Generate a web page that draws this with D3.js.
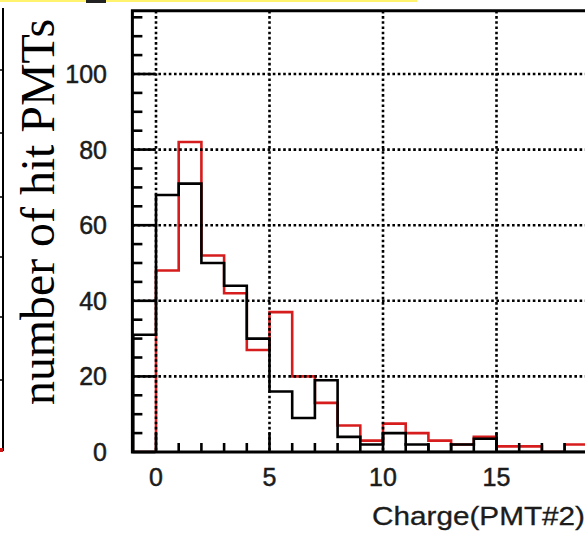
<!DOCTYPE html>
<html>
<head>
<meta charset="utf-8">
<script src="https://cdn.jsdelivr.net/npm/d3@7"></script>
<style>
  html, body { margin: 0; padding: 0; background: #fff; }
  svg { display: block; }
</style>
</head>
<body>
<svg id="chart" width="585" height="534"></svg>
<script>
// histogram bins: width 1, first bin starts at -1
const binStart = -1;
const redCounts = [0, 48, 82, 52, 42, 27, 37, 20, 13, 7, 3, 7.5, 5, 3, 2, 4, 1.5, 1.5, 0, 2, 0];
const blackCounts = [31, 68, 71, 50, 44, 30, 16, 9, 19, 4, 2, 5, 2, 0, 2, 3.5, 0, 0, 0, 0, 0];

const xMajorTicks = [0, 5, 10, 15];
const yMajorTicks = [0, 20, 40, 60, 80, 100];
const xTitle = "Charge(PMT#2)";
const yTitle = "number of hit PMTs";

const svg = d3.select("#chart");

// escalas
const x = d3.scaleLinear().domain([0, 15]).range([156, 496.5]);
const y = d3.scaleLinear().domain([0, 100]).range([452, 74]);

const xMin = -1.04, xMax = 22;
const yMax = 116.7;

// resto do slide: faixa amarela e o gráfico vizinho cortado
svg.append("rect").attr("x", 0).attr("y", 0).attr("width", 417).attr("height", 2)
  .attr("fill", "#fff36e");
svg.append("rect").attr("x", 86).attr("y", 0).attr("width", 20).attr("height", 3)
  .attr("fill", "#222");
svg.append("line").attr("x1", 3).attr("x2", 3).attr("y1", 8).attr("y2", 451)
  .attr("stroke", "#000").attr("stroke-width", 2);
[70, 133, 197, 257, 317, 380].forEach(ty => {
  svg.append("line").attr("x1", 0).attr("x2", 3).attr("y1", ty).attr("y2", ty)
    .attr("stroke", "#000").attr("stroke-width", 1.5);
});
svg.append("rect").attr("x", 0).attr("y", 448).attr("width", 3).attr("height", 4)
  .attr("fill", "#d01818");

svg.append("defs").append("clipPath").attr("id", "plot")
  .append("rect")
  .attr("x", x(xMin)).attr("y", y(yMax))
  .attr("width", x(xMax) - x(xMin)).attr("height", y(0) - y(yMax));

const plot = svg.append("g").attr("clip-path", "url(#plot)");

function stepPoints(counts) {
  const pts = [[binStart, 0]];
  counts.forEach((v, i) => pts.push([binStart + i, v]));
  const end = binStart + counts.length;
  pts.push([end, counts[counts.length - 1]]);
  pts.push([end, 0]);
  return pts;
}

const step = d3.line()
  .x(d => x(d[0]))
  .y(d => y(d[1]))
  .curve(d3.curveStepAfter);

plot.append("path")
  .attr("d", step(stepPoints(redCounts)))
  .attr("fill", "none")
  .attr("stroke", "#d61c1c")
  .attr("stroke-width", 2.6);

plot.append("path")
  .attr("d", step(stepPoints(blackCounts)))
  .attr("fill", "none")
  .attr("stroke", "#000")
  .attr("stroke-width", 2.6);

// grade pontilhada
const grid = plot.append("g")
  .attr("stroke", "#000")
  .attr("stroke-width", 2.6)
  .attr("stroke-dasharray", "2.6,2.6");

grid.selectAll(".gx")
  .data(xMajorTicks)
  .join("line")
  .attr("x1", d => x(d)).attr("x2", d => x(d))
  .attr("y1", y(yMax)).attr("y2", y(0));

grid.selectAll(".gy")
  .data(yMajorTicks.filter(d => d > 0))
  .join("line")
  .attr("x1", x(xMin)).attr("x2", x(xMax))
  .attr("y1", d => y(d)).attr("y2", d => y(d));

// moldura
const frame = svg.append("g").attr("stroke", "#000").attr("stroke-width", 3).attr("fill", "none");
frame.append("path")
  .attr("d", `M${x(xMax)},${y(yMax)} L${x(xMin)},${y(yMax)} L${x(xMin)},${y(0)} L${x(xMax)},${y(0)}`);

// ticks do eixo y
const yMinor = d3.range(0, yMax, 5);
svg.append("g").selectAll("line")
  .data(yMinor)
  .join("line")
  .attr("x1", x(xMin))
  .attr("x2", d => x(xMin) + (d % 20 === 0 ? 23 : 10))
  .attr("y1", d => y(d)).attr("y2", d => y(d))
  .attr("stroke", "#000").attr("stroke-width", 2.6);

// ticks do eixo x
const xMinor = d3.range(0, xMax, 1);
svg.append("g").selectAll("line")
  .data(xMinor)
  .join("line")
  .attr("x1", d => x(d)).attr("x2", d => x(d))
  .attr("y1", y(0))
  .attr("y2", d => y(0) - (d % 5 === 0 ? 19 : 9))
  .attr("stroke", "#000").attr("stroke-width", 2.6);

// rótulos
const labelFont = "'Liberation Sans', Arial, Helvetica, sans-serif";

function labelStyle(sel) {
  sel.style("font-family", labelFont)
    .style("font-size", "25px")
    .attr("fill", "#1c1c1c")
    .attr("stroke", "#1c1c1c")
    .attr("stroke-width", 0.5);
}

svg.append("g").selectAll("text")
  .data(yMajorTicks)
  .join("text")
  .attr("x", 107)
  .attr("y", d => y(d))
  .attr("dy", "0.36em")
  .attr("text-anchor", "end")
  .call(labelStyle)
  .text(d => d);

svg.append("g").selectAll("text")
  .data(xMajorTicks)
  .join("text")
  .attr("x", d => x(d))
  .attr("y", 477)
  .attr("dy", "0.36em")
  .attr("text-anchor", "middle")
  .call(labelStyle)
  .text(d => d);

svg.append("text")
  .attr("x", 372)
  .attr("y", 525)
  .attr("textLength", 213)
  .attr("lengthAdjust", "spacingAndGlyphs")
  .call(labelStyle)
  .attr("stroke-width", 0.3)
  .text(xTitle);

svg.append("text")
  .attr("transform", "translate(54,405) rotate(-90)")
  .attr("textLength", 386)
  .attr("lengthAdjust", "spacingAndGlyphs")
  .style("font-family", "'Liberation Serif', 'Times New Roman', serif")
  .style("font-size", "48px")
  .attr("fill", "#000")
  .text(yTitle);
</script>
</body>
</html>
